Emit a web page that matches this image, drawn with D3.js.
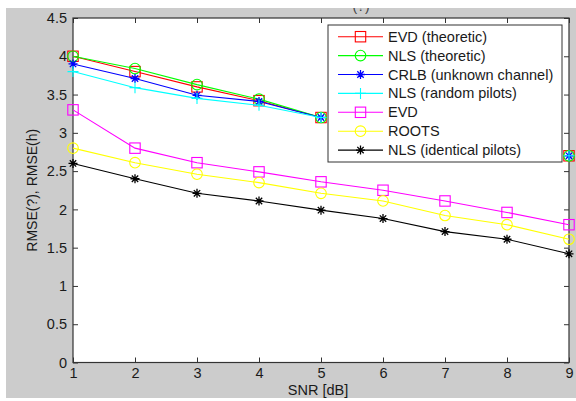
<!DOCTYPE html>
<html>
<head>
<meta charset="utf-8">
<script src="https://cdn.jsdelivr.net/npm/d3@7"></script>
<style>
  body { margin: 0; background: #fff; }
  svg { display: block; font-family: Arial, "Liberation Sans", sans-serif; }
</style>
</head>
<body>
<div id="chart"></div>
<script>
// data
const snr = [1, 2, 3, 4, 5, 6, 7, 8, 9];
const evdTheo  = [4.00, 3.80, 3.60, 3.42, 3.20, null, null, null, 2.70];
const nlsTheo  = [4.00, 3.84, 3.63, 3.44, 3.20, null, null, null, 2.70];
const crlb     = [3.90, 3.71, 3.49, 3.41, 3.20, null, null, null, 2.70];
const nlsRand  = [3.80, 3.59, 3.45, 3.36, 3.20, null, null, null, 2.70];
const evd      = [3.30, 2.80, 2.61, 2.49, 2.36, 2.25, 2.11, 1.96, 1.80];
const roots    = [2.80, 2.61, 2.46, 2.35, 2.21, 2.11, 1.92, 1.80, 1.61];
const nlsIdent = [2.60, 2.40, 2.21, 2.11, 1.99, 1.88, 1.71, 1.61, 1.42];
const xTicks = [1, 2, 3, 4, 5, 6, 7, 8, 9];
const yTicks = [0, 0.5, 1, 1.5, 2, 2.5, 3, 3.5, 4, 4.5];

const series = [
  {name: "EVD (theoretic)", values: evdTheo, color: "#ff0000", marker: "square"},
  {name: "NLS (theoretic)", values: nlsTheo, color: "#00ff00", marker: "circle"},
  {name: "CRLB (unknown channel)", values: crlb, color: "#0000ff", marker: "star"},
  {name: "NLS (random pilots)", values: nlsRand, color: "#00ffff", marker: "plus"},
  {name: "EVD", values: evd, color: "#ff00ff", marker: "square"},
  {name: "ROOTS", values: roots, color: "#ffff00", marker: "circle"},
  {name: "NLS (identical pilots)", values: nlsIdent, color: "#000000", marker: "star"}
];

const W = 576, H = 401;
const margin = {top: 18, right: 7, bottom: 38.5, left: 73};
const width = W - margin.left - margin.right,
      height = H - margin.top - margin.bottom;

const svg = d3.select("#chart").append("svg")
  .attr("width", W).attr("height", H);

// gray figure background
svg.append("rect").attr("x", 6).attr("y", 8).attr("width", W - 6).attr("height", 390)
  .attr("fill", "#cccccc");

// title, mostly cut off at the top
svg.append("text").attr("x", 361).attr("y", 10.5).attr("text-anchor", "middle")
  .attr("font-size", 14).attr("fill", "#444").text("(?)");
svg.append("rect").attr("x", 0).attr("y", 0).attr("width", W).attr("height", 8).attr("fill", "#fff");

const g = svg.append("g").attr("transform", `translate(${margin.left},${margin.top})`);

const x = d3.scaleLinear().domain([1, 9]).range([0, width]);
const y = d3.scaleLinear().domain([0, 4.5]).range([height, 0]);

g.append("rect").attr("width", width).attr("height", height).attr("fill", "#fff");

// axes, MATLAB style: ticks inward on all four sides
const tickLen = 5;
function styleAxis(sel) {
  sel.select(".domain").remove();
  sel.selectAll(".tick line").attr("stroke", "#333");
  sel.selectAll(".tick text").attr("fill", "#1a1a1a").attr("font-size", 14.5);
}
g.append("g").attr("transform", `translate(0,${height})`)
  .call(d3.axisBottom(x).tickValues(xTicks).tickSize(-tickLen).tickPadding(5.5).tickFormat(d3.format("d")))
  .call(styleAxis);
g.append("g")
  .call(d3.axisTop(x).tickValues(xTicks).tickSize(-tickLen).tickFormat(""))
  .call(styleAxis);
g.append("g")
  .call(d3.axisLeft(y).tickValues(yTicks).tickSize(-tickLen).tickPadding(6).tickFormat(d => d))
  .call(styleAxis);
g.append("g").attr("transform", `translate(${width},0)`)
  .call(d3.axisRight(y).tickValues(yTicks).tickSize(-tickLen).tickFormat(""))
  .call(styleAxis);
g.append("rect").attr("width", width).attr("height", height)
  .attr("fill", "none").attr("stroke", "#333").attr("stroke-width", 1.2);

// axis labels
svg.append("text").attr("x", 318).attr("y", 395)
  .attr("text-anchor", "middle").attr("font-size", 14.5).attr("fill", "#1a1a1a").text("SNR [dB]");
svg.append("text").attr("transform", `translate(37,${margin.top + height / 2}) rotate(-90)`)
  .attr("text-anchor", "middle").attr("font-size", 14).attr("fill", "#1a1a1a").text("RMSE(?), RMSE(h)");

// marker drawing
function drawMarker(sel, type, color) {
  if (type === "square") {
    sel.append("rect").attr("x", -5.2).attr("y", -5.2).attr("width", 10.4).attr("height", 10.4)
      .attr("fill", "none").attr("stroke", color).attr("stroke-width", 1.1);
  } else if (type === "circle") {
    sel.append("circle").attr("r", 5.3).attr("fill", "none").attr("stroke", color).attr("stroke-width", 1.1);
  } else if (type === "plus") {
    sel.append("path").attr("d", "M-5.5,0H5.5M0,-5.5V5.5").attr("stroke", color).attr("stroke-width", 1.1);
  } else if (type === "star") {
    sel.append("path").attr("d", "M-4.5,0H4.5M0,-4.5V4.5M-3.2,-3.2L3.2,3.2M-3.2,3.2L3.2,-3.2")
      .attr("stroke", color).attr("stroke-width", 1.3);
  }
}

const line = d3.line()
  .defined(d => d.v !== null)
  .x(d => x(d.s)).y(d => y(d.v));

series.forEach(s => {
  const pts = snr.map((sv, i) => ({s: sv, v: s.values[i]}));
  g.append("path").datum(pts).attr("d", line)
    .attr("fill", "none").attr("stroke", s.color).attr("stroke-width", 1.1);
  g.selectAll(null).data(pts.filter(d => d.v !== null)).enter().append("g")
    .attr("transform", d => `translate(${x(d.s)},${y(d.v)})`)
    .each(function() { drawMarker(d3.select(this), s.marker, s.color); });
});

// legend
const leg = svg.append("g").attr("transform", "translate(328,25)");
leg.append("rect").attr("width", 234).attr("height", 137)
  .attr("fill", "#fff").attr("stroke", "#333").attr("stroke-width", 1);
series.forEach((s, i) => {
  const row = leg.append("g").attr("transform", `translate(0,${11.7 + i * 18.9})`);
  row.append("line").attr("x1", 10).attr("x2", 55).attr("y1", 0).attr("y2", 0)
    .attr("stroke", s.color).attr("stroke-width", 1.1);
  row.append("g").attr("transform", "translate(32.5,0)")
    .each(function() { drawMarker(d3.select(this), s.marker, s.color); });
  row.append("text").attr("x", 60).attr("y", 5).attr("font-size", 14.5).attr("fill", "#1a1a1a").text(s.name);
});
</script>
</body>
</html>
